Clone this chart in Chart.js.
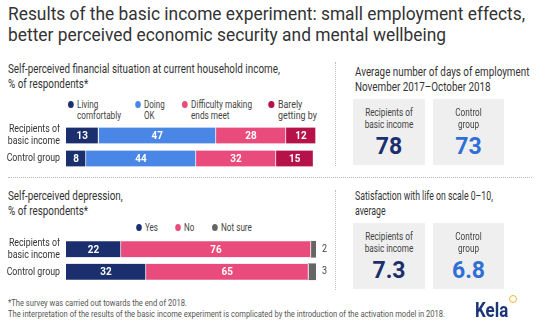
<!DOCTYPE html>
<html lang="en">
<head>
<meta charset="UTF-8">
<title>Basic income experiment</title>
<script src="https://cdn.jsdelivr.net/npm/chart.js"></script>
<style>
  body { margin: 0; background: #fff; }
  #wrap { position: relative; width: 540px; height: 326px; overflow: hidden;
          font-family: Roboto, "Noto Sans", sans-serif; color: #333; }
  .abs { position: absolute; white-space: nowrap; transform-origin: left top; }
  .title { left: 8px; top: 4px; font-size: 18.5px; line-height: 21px; color: #333; }
  .sub { font-size: 12px; line-height: 15px; color: #333; }
  .leg { font-size: 10px; line-height: 11px; color: #444; }
  .leg i { position: absolute; left: -11px; top: 2px; width: 7px; height: 7px; border-radius: 50%; }
  .box { background: #efefef; text-align: center; }
  .box .lbl { margin-top: 8px; font-size: 10px; line-height: 12px; color: #444; transform: scaleX(0.82); }
  .box .num { font-size: 23px; line-height: 26px; font-weight: bold; margin-top: 3px; }
  .hsep { left: 8px; top: 177px; width: 524px; border-top: 1px dotted #bbb; }
  .vsep { width: 0; border-left: 1px dotted #bbb; }
  .foot { left: 8px; top: 298px; font-size: 9px; line-height: 11px; color: #555; }
  .kela { left: 475px; top: 298px; font-size: 21px; line-height: 24px; font-weight: bold; color: #1b3478; }
  .kdot { left: 509px; top: 295px; width: 6px; height: 6px; border-radius: 50%; border: 1px solid #e9b43c; }
</style>
</head>
<body>
<div id="wrap">
  <div class="abs title" data-w="517">Results of the basic income experiment: small employment effects,<br>better perceived economic security and mental wellbeing</div>

  <div class="abs sub" data-w="272" style="left:8px;top:62px">Self-perceived financial situation at current household income,<br>% of respondents*</div>
  <div class="abs leg" data-w="44" style="left:77px;top:99px"><i style="background:#1b2f6e"></i>Living<br>comfortably</div>
  <div class="abs leg" data-s="0.8" style="left:144px;top:99px"><i style="background:#4a86e6"></i>Doing<br>OK</div>
  <div class="abs leg" data-w="61" style="left:191px;top:99px"><i style="background:#ea4b7d"></i>Difficulty making<br>ends meet</div>
  <div class="abs leg" data-w="39" style="left:278px;top:99px"><i style="background:#b5124a"></i>Barely<br>getting by</div>
  <canvas id="finChart" class="abs" style="left:0;top:124px"></canvas>

  <div class="abs vsep" style="left:335px;top:62px;height:104px"></div>
  <div class="abs sub" data-w="174" style="left:355px;top:65px">Average number of days of employment<br>November 2017–October 2018</div>
  <div class="abs box" style="left:353px;top:99px;width:72px;height:66px">
    <div class="lbl">Recipients of<br>basic income</div><div class="num" style="color:#1b2f6e">78</div></div>
  <div class="abs box" style="left:433px;top:99px;width:71px;height:66px">
    <div class="lbl">Control<br>group</div><div class="num" style="color:#2f6fd6">73</div></div>

  <div class="abs hsep"></div>

  <div class="abs sub" data-w="115" style="left:8px;top:189px">Self-perceived depression,<br>% of respondents*</div>
  <div class="abs leg" data-s="0.8" style="left:145px;top:222px"><i style="background:#1b2f6e"></i>Yes</div>
  <div class="abs leg" data-s="0.8" style="left:184px;top:222px"><i style="background:#ea4b7d"></i>No</div>
  <div class="abs leg" data-w="31" style="left:221px;top:222px"><i style="background:#666"></i>Not sure</div>
  <canvas id="depChart" class="abs" style="left:0;top:238px"></canvas>

  <div class="abs vsep" style="left:335px;top:190px;height:100px"></div>
  <div class="abs sub" data-w="138" style="left:355px;top:189px">Satisfaction with life on scale 0–10,<br>average</div>
  <div class="abs box" style="left:353px;top:223px;width:72px;height:66px">
    <div class="lbl">Recipients of<br>basic income</div><div class="num" style="color:#1b2f6e">7.3</div></div>
  <div class="abs box" style="left:433px;top:223px;width:71px;height:66px">
    <div class="lbl">Control<br>group</div><div class="num" style="color:#2f6fd6">6.8</div></div>

  <div class="abs foot" data-w="437">*The survey was carried out towards the end of 2018.<br>The interpretation of the results of the basic income experiment is complicated by the introduction of the activation model in 2018.</div>
  <div class="abs kela" data-w="33">Kela</div>
  <div class="abs kdot"></div>
</div>

<script>
  // data
  var grupot = [['Recipients of', 'basic income'], ['Control group']];

  var tilanneNimet = ['Living comfortably', 'Doing OK', 'Difficulty making ends meet', 'Barely getting by'];
  var livingComfortably = [13, 8];
  var doingOk = [47, 44];
  var difficulty = [28, 32];
  var barely = [12, 15];

  var masennusNimet = ['Yes', 'No', 'Not sure'];
  var yes = [22, 32];
  var no = [76, 65];
  var notSure = [2, 3];

  var FONTE = 'Roboto, "Noto Sans", sans-serif';
  var ESTREITO = 0.8; // fonte do original e condensada

  // ajusta a largura dos textos ao original
  document.querySelectorAll('[data-w], [data-s]').forEach((el) => {
    let s = el.dataset.s ? Number(el.dataset.s) : Number(el.dataset.w) / el.offsetWidth;
    el.style.transform = 'scaleX(' + s + ')';
  });

  // rotulos das barras e das categorias
  const rotulos = {
    id: 'rotulos',
    afterDatasetsDraw(chart) {
      const ctx = chart.ctx;
      const area = chart.chartArea;
      const yScale = chart.scales.y;
      ctx.save();
      ctx.textBaseline = 'middle';

      // categorias a esquerda
      ctx.fillStyle = '#333';
      ctx.font = '11px ' + FONTE;
      ctx.textAlign = 'right';
      chart.data.labels.forEach((lab, j) => {
        const y = yScale.getPixelForValue(j);
        const linhas = Array.isArray(lab) ? lab : [lab];
        linhas.forEach((t, k) => {
          ctx.save();
          ctx.translate(area.left - 6, y + (k - (linhas.length - 1) / 2) * 12);
          ctx.scale(ESTREITO, 1);
          ctx.fillText(t, 0, 0);
          ctx.restore();
        });
      });

      chart.data.datasets.forEach((ds, i) => {
        chart.getDatasetMeta(i).data.forEach((bar, j) => {
          const v = ds.data[j];
          ctx.save();
          if (ds.fora) {
            ctx.fillStyle = '#444';
            ctx.font = '10px ' + FONTE;
            ctx.textAlign = 'left';
            ctx.translate(bar.x + 6, bar.y);
          } else {
            ctx.fillStyle = '#fff';
            ctx.font = 'bold 11px ' + FONTE;
            ctx.textAlign = 'center';
            ctx.translate((bar.x + bar.base) / 2, bar.y + 0.5);
          }
          ctx.scale(0.9, 1);
          ctx.fillText(v, 0, 0);
          ctx.restore();
        });
      });
      ctx.restore();
    }
  };

  function opcoes() {
    return {
      indexAxis: 'y',
      responsive: false,
      animation: false,
      layout: { padding: { left: 66, right: 24, top: 0, bottom: 0 } },
      plugins: { legend: { display: false }, tooltip: { enabled: false } },
      scales: {
        x: { stacked: true, min: 0, max: 100, display: false },
        y: { stacked: true, display: false }
      }
    };
  }

  function serie(label, data, cor, extra) {
    return Object.assign({
      label: label, data: data, backgroundColor: cor,
      borderColor: '#fff', borderWidth: { right: 1 }, borderSkipped: false,
      barThickness: 16
    }, extra || {});
  }

  const finCanvas = document.getElementById('finChart');
  finCanvas.width = 340; finCanvas.height = 46;
  new Chart(finCanvas, {
    type: 'bar',
    data: {
      labels: grupot,
      datasets: [
        serie(tilanneNimet[0], livingComfortably, '#1b2f6e'),
        serie(tilanneNimet[1], doingOk, '#4a86e6'),
        serie(tilanneNimet[2], difficulty, '#ea4b7d'),
        serie(tilanneNimet[3], barely, '#b5124a')
      ]
    },
    options: opcoes(),
    plugins: [rotulos]
  });

  const depCanvas = document.getElementById('depChart');
  depCanvas.width = 340; depCanvas.height = 45;
  new Chart(depCanvas, {
    type: 'bar',
    data: {
      labels: grupot,
      datasets: [
        serie(masennusNimet[0], yes, '#1b2f6e'),
        serie(masennusNimet[1], no, '#ea4b7d'),
        serie(masennusNimet[2], notSure, '#666', { fora: true, borderWidth: 0 })
      ]
    },
    options: opcoes(),
    plugins: [rotulos]
  });
</script>
</body>
</html>
